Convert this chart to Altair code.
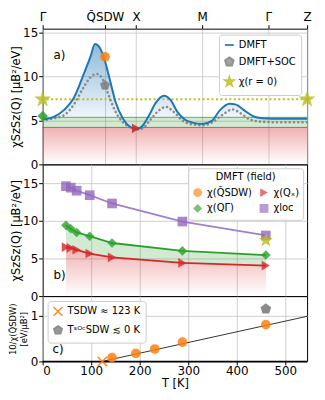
import altair as alt
import numpy as np
import pandas as pd

# ---------------- data ----------------
# panel a: path through the Brillouin zone
path_ticks = [0.0, 0.667, 1.0, 1.707, 2.414, 2.83]
path_labels = ["Γ", "Q̃SDW", "X", "M", "Γ", "Z"]

k_dmft = [0.0, 0.12, 0.23, 0.33, 0.44, 0.51, 0.56, 0.61, 0.66, 0.72, 0.78, 0.86, 0.93, 1.0,
          1.07, 1.14, 1.21, 1.3, 1.37, 1.44, 1.52, 1.6, 1.71, 1.81, 1.9, 2.0, 2.07, 2.15,
          2.25, 2.35, 2.45, 2.83]
v_dmft = [5.1, 5.4, 6.2, 7.5, 10.3, 12.2, 13.7, 13.3, 12.0, 9.6, 7.1, 5.2, 4.3, 4.0,
          4.4, 5.6, 7.0, 7.8, 7.3, 6.0, 5.1, 4.75, 4.6, 4.95, 6.2, 6.9, 6.8, 6.2,
          5.5, 5.25, 5.2, 5.2]

k_soc = [0.0, 0.12, 0.23, 0.33, 0.44, 0.51, 0.58, 0.64, 0.7, 0.77, 0.85, 0.93, 1.0, 1.07,
         1.14, 1.22, 1.32, 1.4, 1.5, 1.6, 1.71, 1.81, 1.92, 2.03, 2.12, 2.22, 2.35, 2.5, 2.83]
v_soc = [5.0, 5.25, 5.6, 6.75, 8.8, 9.9, 10.3, 9.75, 8.05, 6.2, 4.9, 4.25, 3.95, 4.1,
         4.9, 5.9, 6.55, 6.0, 4.95, 4.55, 4.45, 4.75, 5.6, 6.25, 5.8, 5.1, 4.85, 4.8, 4.8]

chi_r0 = 7.4
band_green = 5.35
band_red = 4.2
chi_qsdw_dmft = 12.25
chi_qsdw_soc = 9.0
chi_qgamma_a = 5.5
chi_qx_a = 4.1

# panel b: temperature dependence
T_b = [48, 58, 70, 97, 143, 288, 460]
chi_loc = [14.6, 14.4, 14.0, 13.4, 12.3, 9.9, 8.05]
chi_gamma = [9.4, 8.95, 8.45, 7.95, 7.05, 6.0, 5.45]
chi_x = [6.5, 6.4, 6.15, 5.65, 5.15, 4.4, 4.05]
star_T = 460

# panel c: inverse susceptibility
T_c = [143, 192, 231, 288, 460]
inv_chi = [0.084, 0.175, 0.27, 0.42, 0.80]
T_sdw = 123
soc_T, soc_inv = 460, 1.14
fit_T = [123, 545]
fit_v = [0.0, 0.98]

# ---------------- style ----------------
FONT = "DejaVu Sans"
W = 267
blue, orange, green, red = "#1f77b4", "#ff7f0e", "#2ca02c", "#d62728"
purple, gray, olive = "#9467bd", "#7f7f7f", "#bcbd22"


def star_path():
    pts = []
    for i in range(10):
        r = 1.0 if i % 2 == 0 else 0.4
        a = np.deg2rad(-90 + 36 * i)
        pts.append(f"{r*np.cos(a):.3f},{r*np.sin(a):.3f}")
    return "M" + "L".join(pts) + "Z"


def pent_path():
    pts = []
    for i in range(5):
        a = np.deg2rad(-90 + 72 * i)
        pts.append(f"{np.cos(a):.3f},{np.sin(a):.3f}")
    return "M" + "L".join(pts) + "Z"


STAR = star_path()
PENT = pent_path()
XSHAPE = "M-1,-1L1,1M-1,1L1,-1"

label_expr = ""
for i in range(len(path_ticks) - 1):
    m = (path_ticks[i] + path_ticks[i + 1]) / 2
    label_expr += f"datum.value < {m:.4f} ? '{path_labels[i]}' : "
label_expr += f"'{path_labels[-1]}'"

grad_red = alt.Gradient(gradient="linear",
                        stops=[alt.GradientStop(color="rgba(214,39,40,0.36)", offset=0),
                               alt.GradientStop(color="rgba(214,39,40,0)", offset=1)],
                        x1=1, x2=1, y1=0, y2=1)
grad_blue = alt.Gradient(gradient="linear",
                         stops=[alt.GradientStop(color="rgba(31,119,180,0.5)", offset=0),
                                alt.GradientStop(color="rgba(31,119,180,0)", offset=1)],
                         x1=1, x2=1, y1=0, y2=1)

YTITLE = "χSzSz(Q) [μB²/eV]"

# ---------------- panel a ----------------
sa_x = alt.Scale(domain=[path_ticks[0], path_ticks[-1]], nice=False, zero=False)
sa_y = alt.Scale(domain=[0, 15.45], nice=False)
ax_a_x = alt.Axis(orient="top", values=path_ticks, labelExpr=label_expr, title=None,
                  grid=True, tickSize=4, labelPadding=1, domain=False, labelFlush=False)
ax_a_y = alt.Axis(values=[0, 5, 10, 15], title=YTITLE, grid=True, domain=False,
                  titlePadding=1, labelPadding=1)


def XA(f):
    return alt.X(f, type="quantitative", scale=sa_x, axis=ax_a_x)


def YA(f):
    return alt.Y(f, type="quantitative", scale=sa_y, axis=ax_a_y)


dfa = pd.DataFrame({"k": k_dmft, "v": v_dmft})
dfa["lo"] = np.minimum(dfa["v"], band_green)
dfs = pd.DataFrame({"k": k_soc, "v": v_soc})
bands = pd.DataFrame({"k": [path_ticks[0], path_ticks[-1]], "v": [band_green] * 2,
                      "r": [band_red] * 2, "z": [0.0] * 2})

red_band = alt.Chart(bands).mark_area(color=grad_red).encode(x=XA("k"), y=YA("r"), y2="z")
green_band = alt.Chart(bands).mark_area(color=green, opacity=0.22).encode(x=XA("k"), y=YA("v"), y2="r")
green_edge = alt.Chart(bands).mark_rule(color=green, opacity=0.45, strokeWidth=1).encode(y=YA("v"))
red_edge = alt.Chart(bands).mark_rule(color=red, opacity=0.45, strokeWidth=1).encode(y=YA("r"))
blue_fill = alt.Chart(dfa).mark_area(color=grad_blue, interpolate="monotone").encode(
    x=XA("k"), y=YA("v"), y2="lo")
r0_line = alt.Chart(pd.DataFrame({"v": [chi_r0]})).mark_rule(
    color=olive, strokeDash=[2, 2.5], strokeWidth=2).encode(y=YA("v"))
soc_line = alt.Chart(dfs).mark_line(color="#8a8a8a", strokeWidth=2.6, strokeDash=[0.1, 4.2],
                                     strokeCap="round", interpolate="monotone").encode(x=XA("k"), y=YA("v"))
dmft_line = alt.Chart(dfa).mark_line(color=blue, strokeWidth=2, interpolate="monotone").encode(
    x=XA("k"), y=YA("v"))

pts_orange = alt.Chart(pd.DataFrame({"k": [path_ticks[1]], "v": [chi_qsdw_dmft]})).mark_point(
    filled=True, size=95, color=orange, opacity=0.85, shape="circle").encode(x=XA("k"), y=YA("v"))
pts_green = alt.Chart(pd.DataFrame({"k": [path_ticks[0]], "v": [chi_qgamma_a]})).mark_point(
    filled=True, size=110, color=green, opacity=0.85, shape="diamond").encode(x=XA("k"), y=YA("v"))
pts_red = alt.Chart(pd.DataFrame({"k": [path_ticks[2]], "v": [chi_qx_a]})).mark_point(
    filled=True, size=95, color=red, opacity=0.85, shape="triangle-right").encode(x=XA("k"), y=YA("v"))

dom_a = ["DMFT", "DMFT+SOC", "χ(r = 0)"]
leg_a = alt.Legend(title=None, orient="top-right", offset=6, fillColor="white",
                   strokeColor="#cccccc", padding=5, cornerRadius=3, labelFontSize=10,
                   symbolSize=80, symbolStrokeWidth=2, rowPadding=3, labelFont=FONT)
enc_a = dict(
    fill=alt.Fill("s:N", scale=alt.Scale(domain=dom_a, range=[blue, gray, olive]), legend=leg_a),
    stroke=alt.Stroke("s:N", scale=alt.Scale(domain=dom_a, range=[blue, gray, olive]), legend=leg_a),
    shape=alt.Shape("s:N", scale=alt.Scale(domain=dom_a, range=["stroke", PENT, STAR]), legend=leg_a),
)
pent_a = alt.Chart(pd.DataFrame({"k": [path_ticks[1]], "v": [chi_qsdw_soc], "s": ["DMFT+SOC"]})).mark_point(
    filled=True, size=100, opacity=0.85, strokeWidth=0.5).encode(x=XA("k"), y=YA("v"), **enc_a)
stars_a = alt.Chart(pd.DataFrame({"k": [path_ticks[0], path_ticks[-1]], "v": [chi_r0, chi_r0],
                                  "s": ["χ(r = 0)"] * 2})).mark_point(
    filled=True, size=270, opacity=0.85, strokeWidth=0.5).encode(x=XA("k"), y=YA("v"), **enc_a)
lab_a = alt.Chart(pd.DataFrame({"t": ["a)"]})).mark_text(
    fontSize=12, align="left", baseline="middle", font=FONT).encode(
    text="t:N", x=alt.value(11), y=alt.value(27))

panel_a = alt.layer(red_band, green_band, green_edge, red_edge, blue_fill, r0_line, soc_line,
                    dmft_line, pts_orange, pent_a, pts_green, pts_red, stars_a, lab_a).properties(
    width=W, height=137)

# ---------------- panel b ----------------
sT = alt.Scale(domain=[0, 545], nice=False, zero=False)
sb_y = alt.Scale(domain=[0, 17.5], nice=False)
ax_b_x = alt.Axis(values=[100, 200, 300, 400, 500], labels=False, ticks=False, domain=False,
                  title=None, grid=True)
ax_b_y = alt.Axis(values=[0, 5, 10, 15], title=YTITLE, grid=True, domain=False,
                  titlePadding=1, labelPadding=1)


def XB(f):
    return alt.X(f, type="quantitative", scale=sT, axis=ax_b_x)


def YB(f):
    return alt.Y(f, type="quantitative", scale=sb_y, axis=ax_b_y)


# legend order (laid out column by column): row1 = Q̃SDW, Qx ; row2 = QΓ, loc
dom_b = ["χ(Q̃SDW)", "χ(QΓ)", "χ(Qₓ)", "χloc"]
col_b = [orange, green, red, purple]
shp_b = ["circle", "diamond", "triangle-right", "square"]
dfw = pd.DataFrame({"T": T_b, "x": chi_x, "g": chi_gamma, "l": chi_loc, "z": [0.0] * len(T_b)})
dfl = pd.concat([
    pd.DataFrame({"T": T_b, "v": chi_x, "s": "χ(Qₓ)"}),
    pd.DataFrame({"T": T_b, "v": chi_gamma, "s": "χ(QΓ)"}),
    pd.DataFrame({"T": T_b, "v": chi_loc, "s": "χloc"}),
])

leg_b = alt.Legend(title="DMFT (field)", orient="top-right", offset=4, fillColor="white",
                   strokeColor="#cccccc", padding=4, cornerRadius=3, labelFontSize=10,
                   titleFontSize=10, titleFontWeight="normal", titleAnchor="middle",
                   columns=2, columnPadding=4, rowPadding=1, symbolSize=80, labelFont=FONT,
                   titleFont=FONT)
red_fill_b = alt.Chart(dfw).mark_area(color=grad_red).encode(x=XB("T"), y=YB("x"), y2="z")
green_fill_b = alt.Chart(dfw).mark_area(color=green, opacity=0.22).encode(x=XB("T"), y=YB("g"), y2="x")
line_x = alt.Chart(dfw).mark_line(strokeWidth=1.8, color=red).encode(x=XB("T"), y=YB("x"))
line_g = alt.Chart(dfw).mark_line(strokeWidth=1.8, color=green).encode(x=XB("T"), y=YB("g"))
line_l = alt.Chart(dfw).mark_line(strokeWidth=1.8, color="#a080cc").encode(x=XB("T"), y=YB("l"))
pts_b = alt.Chart(dfl).mark_point(filled=True, size=95, opacity=0.8).encode(
    x=XB("T"), y=YB("v"),
    fill=alt.Fill("s:N", scale=alt.Scale(domain=dom_b, range=col_b), legend=leg_b),
    shape=alt.Shape("s:N", scale=alt.Scale(domain=dom_b, range=shp_b), legend=leg_b))
star_b = alt.Chart(pd.DataFrame({"T": [star_T], "v": [chi_r0]})).mark_point(
    filled=True, size=230, color=olive, opacity=0.85, shape=STAR).encode(x=XB("T"), y=YB("v"))
lab_b = alt.Chart(pd.DataFrame({"t": ["b)"]})).mark_text(
    fontSize=12, align="left", baseline="middle", font=FONT).encode(
    text="t:N", x=alt.value(11), y=alt.value(112))

panel_b = alt.layer(red_fill_b, green_fill_b, line_x, line_g, line_l, pts_b, star_b, lab_b).properties(
    width=W, height=133)

# ---------------- panel c ----------------
sc_y = alt.Scale(domain=[0, 1.42], nice=False)
ax_c_x = alt.Axis(values=[0, 100, 200, 300, 400, 500], title="T [K]", grid=True, domain=False,
                  titlePadding=1, labelPadding=1, tickSize=3.5)
ax_c_y = alt.Axis(values=[0, 1], title=["10/χ(Q̃SDW)", "[eV/μB²]"], titleFontSize=8.5,
                  grid=True, domain=False, titlePadding=2, labelPadding=1)


def XC(f):
    return alt.X(f, type="quantitative", scale=sT, axis=ax_c_x)


def YC(f):
    return alt.Y(f, type="quantitative", scale=sc_y, axis=ax_c_y)


dom_c = ["TSDW ≈ 123 K", "TˢᴼᶜSDW ≲ 0 K"]
leg_c = alt.Legend(title=None, orient="top-left", offset=5, fillColor="white",
                   strokeColor="#cccccc", padding=5, cornerRadius=3, labelFontSize=10,
                   symbolSize=80, rowPadding=4, labelFont=FONT)
fit_c = alt.Chart(pd.DataFrame({"T": fit_T, "v": fit_v})).mark_line(
    color="black", strokeWidth=0.8).encode(x=XC("T"), y=YC("v"))
zero_c = alt.Chart(pd.DataFrame({"v": [0.0]})).mark_rule(color="black", strokeWidth=1.5).encode(y=YC("v"))
pts_c = alt.Chart(pd.DataFrame({"T": T_c, "v": inv_chi})).mark_point(
    filled=True, size=95, color=orange, opacity=0.85, shape="circle").encode(x=XC("T"), y=YC("v"))
leg_pts_c = alt.Chart(pd.DataFrame({"T": [T_sdw, soc_T], "v": [0.0, soc_inv], "s": dom_c})).mark_point(
    filled=True, size=90, strokeWidth=1.5, opacity=0.9).encode(
    x=XC("T"), y=YC("v"),
    fill=alt.Fill("s:N", scale=alt.Scale(domain=dom_c, range=[orange, gray]), legend=leg_c),
    stroke=alt.Stroke("s:N", scale=alt.Scale(domain=dom_c, range=[orange, gray]), legend=leg_c),
    shape=alt.Shape("s:N", scale=alt.Scale(domain=dom_c, range=[XSHAPE, PENT]), legend=leg_c))
lab_c = alt.Chart(pd.DataFrame({"t": ["c)"]})).mark_text(
    fontSize=12, align="left", baseline="middle", font=FONT).encode(
    text="t:N", x=alt.value(10), y=alt.value(53))

panel_c = alt.layer(fit_c, zero_c, pts_c, leg_pts_c, lab_c).properties(width=W, height=66)

chart = alt.vconcat(panel_a, panel_b, panel_c, spacing=0, bounds="flush").resolve_scale(
    fill="independent", stroke="independent", shape="independent"
).resolve_legend(
    fill="independent", stroke="independent", shape="independent"
).properties(
    padding={"left": 0, "top": 0, "right": 0, "bottom": 0}
).configure(font=FONT).configure_view(
    stroke="black", strokeWidth=1
).configure_axis(
    labelFont=FONT, titleFont=FONT, labelFontSize=12, titleFontSize=11.5,
    titleFontWeight="normal", gridColor="#c4c4c4", gridWidth=0.8, tickColor="black",
    labelColor="black", titleColor="black", tickSize=4
)

chart.save("out.html", embed_options={"renderer": "svg", "actions": False})
